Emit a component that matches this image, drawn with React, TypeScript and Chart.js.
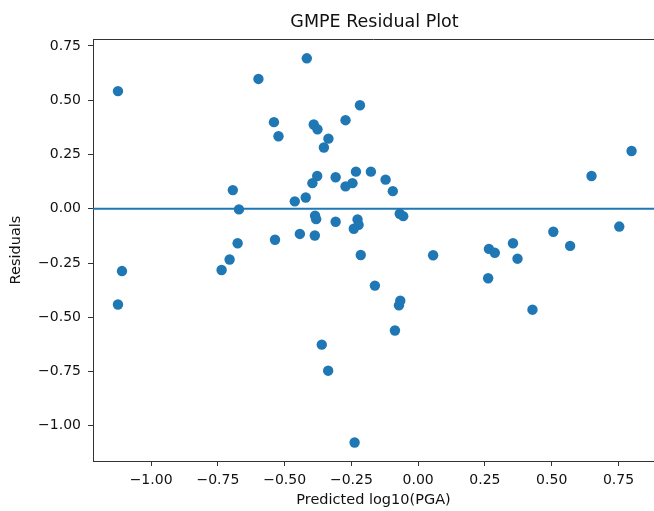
import React, { useEffect, useRef } from "react";
import { Chart, registerables } from "chart.js";

Chart.register(...registerables);

const TITLE = "GMPE Residual Plot";
const X_LABEL = "Predicted log10(PGA)";
const Y_LABEL = "Residuals";

const PREDICTED = [
  -1.124, -0.598, -0.417, -0.218, -0.540, -0.523, -0.391, -0.377, -0.272, -0.336,
  -0.353, -0.694, -0.671, -0.462, -0.421, -0.396, -0.378, -0.309, -0.272, -0.246,
  -0.233, -0.177, -0.386, -0.382, -0.309, -0.227, -0.223, -0.241, -0.443, -0.387,
  -0.536, -0.676, -0.215, -0.706, -0.736, -1.109, -1.124, -0.162, -0.361, -0.337,
  -0.238, -0.122, -0.095, -0.069, -0.056, 0.649, 0.799, 0.753, 0.506, 0.569,
  0.355, 0.372, 0.265, 0.287, 0.056, 0.262, 0.428, -0.067, -0.072, -0.087,
];
const RESIDUALS = [
  0.542, 0.598, 0.693, 0.477, 0.399, 0.334, 0.388, 0.366, 0.408, 0.323,
  0.282, 0.086, -0.003, 0.034, 0.052, 0.118, 0.151, 0.145, 0.103, 0.118,
  0.171, 0.171, -0.032, -0.048, -0.060, -0.049, -0.074, -0.092, -0.116, -0.123,
  -0.143, -0.159, -0.213, -0.234, -0.282, -0.287, -0.441, -0.354, -0.626, -0.746,
  -1.077, 0.134, 0.081, -0.023, -0.034, 0.151, 0.266, -0.082, -0.106, -0.171,
  -0.159, -0.230, -0.185, -0.203, -0.214, -0.320, -0.465, -0.424, -0.445, -0.561,
];

const X_TICKS = [-1.0, -0.75, -0.5, -0.25, 0.0, 0.25, 0.5, 0.75];
const Y_TICKS = [-1.0, -0.75, -0.5, -0.25, 0.0, 0.25, 0.5, 0.75];
const X_RANGE = [-1.2175, 0.883];
const Y_RANGE = [-1.162, 0.782];
const REFERENCE_LINE = 0;

const BLUE = "#1f77b4";
const FONT = "'DejaVu Sans', sans-serif";

const fmt = (v: number) => {
  const s = Math.abs(v).toFixed(2);
  return v < 0 ? "\u2212" + s : s;
};

export default function App() {
  const ref = useRef<HTMLCanvasElement | null>(null);

  useEffect(() => {
    if (!ref.current) return;
    const points = PREDICTED.map((x, i) => ({ x, y: RESIDUALS[i] }));

    const framePlugin = {
      id: "frame",
      afterDraw(chart: any) {
        const { ctx, chartArea } = chart;
        ctx.save();
        ctx.strokeStyle = "#333";
        ctx.lineWidth = 1;
        ctx.beginPath();
        ctx.moveTo(chartArea.left, chartArea.top + 0.5);
        ctx.lineTo(chart.width, chartArea.top + 0.5);
        ctx.stroke();
        ctx.fillStyle = "#111";
        ctx.font = `17.5px ${FONT}`;
        ctx.textAlign = "center";
        ctx.textBaseline = "middle";
        ctx.fillText(TITLE, (chartArea.left + chartArea.right) / 2 + 1, 22);
        ctx.restore();
      },
    };

    const chart = new Chart(ref.current, {
      type: "scatter",
      data: {
        datasets: [
          {
            type: "line",
            data: [
              { x: X_RANGE[0], y: REFERENCE_LINE },
              { x: X_RANGE[1], y: REFERENCE_LINE },
            ],
            borderColor: BLUE,
            borderWidth: 1.8,
            pointRadius: 0,
            fill: false,
            order: 0,
          } as any,
          {
            data: points,
            backgroundColor: BLUE,
            borderColor: BLUE,
            borderWidth: 0,
            pointRadius: 5.2,
            pointHoverRadius: 5.2,
            order: 1,
          },
        ],
      },
      plugins: [framePlugin],
      options: {
        animation: false,
        responsive: false,
        devicePixelRatio: 1,
        layout: { autoPadding: false, padding: { top: 39, left: 0, right: 0, bottom: 0 } },
        plugins: {
          legend: { display: false },
          title: { display: false },
          tooltip: { enabled: false },
        },
        scales: {
          x: {
            type: "linear",
            min: X_RANGE[0],
            max: X_RANGE[1],
            afterBuildTicks: (scale: any) => {
              scale.ticks = X_TICKS.map((v) => ({ value: v }));
            },
            afterFit: (scale: any) => {
              scale.height = 50;
              scale.paddingLeft = 0;
              scale.paddingRight = 0;
            },
            grid: {
              drawOnChartArea: false,
              drawTicks: true,
              tickLength: 5,
              color: "#333",
            },
            border: { display: true, color: "#333", width: 1 },
            ticks: {
              callback: (v: any) => fmt(Number(v)),
              font: { family: FONT, size: 14 },
              color: "#111",
              padding: 6,
              maxRotation: 0,
              autoSkip: false,
            },
            title: {
              display: true,
              text: X_LABEL,
              font: { family: FONT, size: 14.5 },
              color: "#111",
              padding: { top: 0, bottom: 2 },
            },
          },
          y: {
            type: "linear",
            min: Y_RANGE[0],
            max: Y_RANGE[1],
            afterBuildTicks: (scale: any) => {
              scale.ticks = Y_TICKS.map((v) => ({ value: v }));
            },
            afterFit: (scale: any) => {
              scale.width = 93;
              scale.paddingTop = 0;
              scale.paddingBottom = 0;
            },
            grid: {
              drawOnChartArea: false,
              drawTicks: true,
              tickLength: 5,
              color: "#333",
            },
            border: { display: true, color: "#333", width: 1 },
            ticks: {
              callback: (v: any) => fmt(Number(v)),
              font: { family: FONT, size: 14 },
              color: "#111",
              padding: 7,
              autoSkip: false,
            },
            title: {
              display: true,
              text: Y_LABEL,
              font: { family: FONT, size: 14.5 },
              color: "#111",
              padding: { top: 8, bottom: 0 },
            },
          },
        },
      },
    });
    return () => chart.destroy();
  }, []);

  return (
    <div style={{ position: "absolute", left: 0, top: 0, width: 654, height: 511, background: "#fff" }}>
      <canvas ref={ref} width={654} height={511} style={{ display: "block" }} />
    </div>
  );
}
